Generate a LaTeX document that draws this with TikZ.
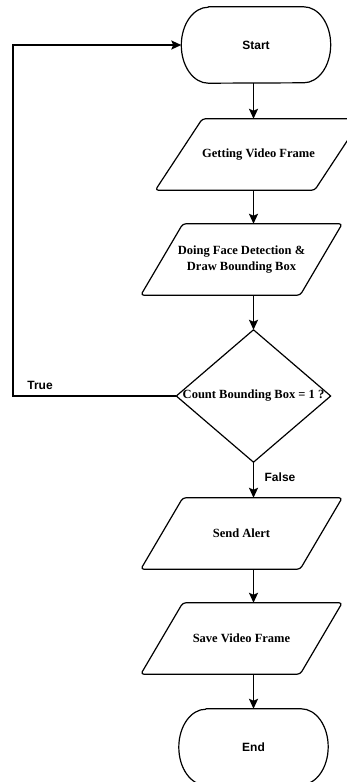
\documentclass[tikz,border=0pt]{standalone}
\usepackage{fontspec}
\setmainfont{Liberation Serif}
\setsansfont{Liberation Sans}
\usetikzlibrary{arrows.meta}

\tikzset{
  outline/.style={line width=1.2pt,line join=round},
  term/.style={minimum width=149pt,minimum height=76pt,inner sep=0pt,
    font=\sffamily\bfseries\fontsize{12}{14}\selectfont,
    append after command={\pgfextra{\draw[outline]
      ([xshift=27pt]\tikzlastnode.north west)--([xshift=-27pt]\tikzlastnode.north east)
      arc[start angle=90,end angle=-90,x radius=27pt,y radius=38pt]
      --([xshift=27pt]\tikzlastnode.south west)
      arc[start angle=270,end angle=90,x radius=27pt,y radius=38pt]--cycle;}}},
  io/.style={minimum width=#1+159pt,minimum height=71pt,inner sep=0pt,align=center,
    font=\bfseries\fontsize{12.5}{16}\selectfont,
    append after command={\pgfextra{\draw[outline,rounded corners=3pt]
      (\tikzlastnode.south west)--([xshift=#1]\tikzlastnode.north west)
      --(\tikzlastnode.north east)--([xshift=-#1]\tikzlastnode.south east)--cycle;}}},
  io/.default=42pt,
  decision/.style={minimum width=154pt,minimum height=132pt,inner sep=0pt,
    font=\bfseries\fontsize{12.5}{15}\selectfont,
    append after command={\pgfextra{\draw[outline]
      (\tikzlastnode.north)--(\tikzlastnode.east)--(\tikzlastnode.south)
      --(\tikzlastnode.west)--cycle;}}},
  flow/.style={line width=1.8pt,-{Stealth[length=10pt,width=9pt,inset=2pt]}},
  tag/.style={font=\sffamily\bfseries\fontsize{12}{14}\selectfont}
}

\begin{document}
\begin{tikzpicture}[x=1pt,y=-1pt]
\useasboundingbox[fill=white](0,0)rectangle(346,782);
% nodes, top to bottom
\node[term](start)at(256,45){Start};
\node[io=47pt](grab)at(258.5,154.5){Getting Video Frame};
\node[io](face)at(241.5,259.5){Doing Face Detection \&\\Draw Bounding Box};
\node[decision](decide)at(253.5,396){Count Bounding Box = 1 ?};
\node[io](alert)at(241.5,533.5){Send Alert};
\node[io](save)at(241.5,638.5){Save Video Frame};
\node[term](stop)at(253.5,747){End};
% spine
\draw[flow](start.south-|decide.north)--(grab.north-|decide.north);
\draw[flow](grab.south-|decide.north)--(face.north-|decide.north);
\draw[flow](face.south-|decide.north)--(decide.north);
\draw[flow](decide.south)--(alert.north-|decide.south);
\draw[flow](alert.south-|decide.south)--(save.north-|decide.south);
\draw[flow](save.south-|decide.south)--(stop.north);
% loop back when true
\coordinate(back)at(13,0);
\draw[flow](decide.west)--(decide.west-|back)--(start.west-|back)--(start.west);
\node[tag](yes)at(40,385){True};
\node[tag](no)at(280,477){False};
\end{tikzpicture}
\end{document}
